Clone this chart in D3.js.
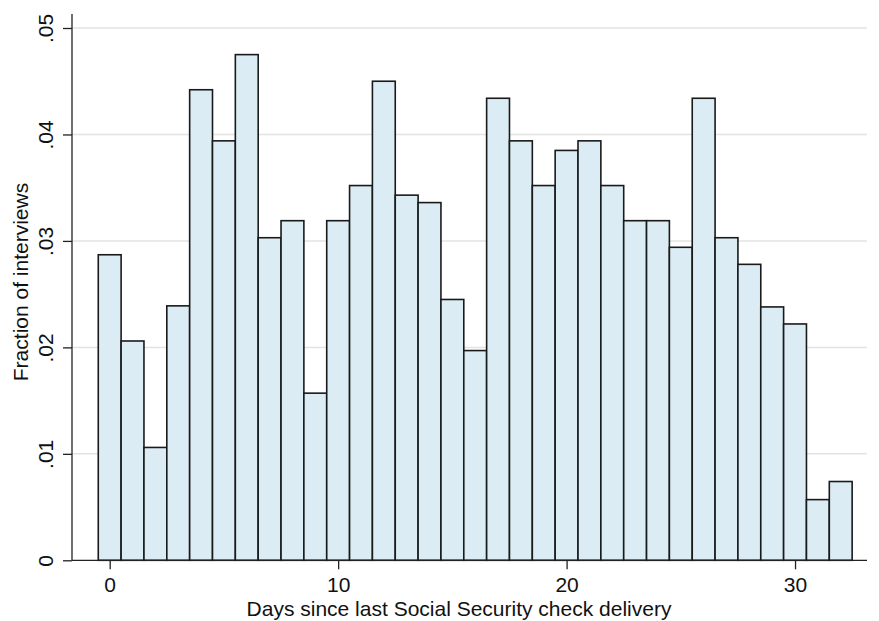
<!DOCTYPE html>
<html>
<head>
<meta charset="utf-8">
<script src="https://cdn.jsdelivr.net/npm/d3@7"></script>
<style>
  html, body { margin: 0; padding: 0; background: #fff; }
  svg { display: block; font-family: "Liberation Sans", Arial, Helvetica, sans-serif; }
</style>
</head>
<body>
<svg id="chart" width="879" height="621"></svg>
<script>
// Data: day since last check delivery and fraction of interviews
const days = d3.range(0, 33);
const fractions = [
  0.0287, 0.0206, 0.0106, 0.0239, 0.0442, 0.0394, 0.0475, 0.0303, 0.0319, 0.0157,
  0.0319, 0.0352, 0.0450, 0.0343, 0.0336, 0.0245, 0.0197, 0.0434, 0.0394, 0.0352,
  0.0385, 0.0394, 0.0352, 0.0319, 0.0319, 0.0294, 0.0434, 0.0303, 0.0278, 0.0238,
  0.0222, 0.0057, 0.0074
];
const xTicks = [0, 10, 20, 30];
const yTicks = [0, 0.01, 0.02, 0.03, 0.04, 0.05];
const yTickLabels = ["0", ".01", ".02", ".03", ".04", ".05"];
const xTitle = "Days since last Social Security check delivery";
const yTitle = "Fraction of interviews";

const svg = d3.select("#chart");
const mLeft = 72, mRight = 867, mTop = 14, mBottom = 560.3;

const x = d3.scaleLinear().domain([-1.65, 33.15]).range([mLeft, mRight]);
const y = d3.scaleLinear().domain([0, 0.05]).range([mBottom, 28]);

// gridlines
svg.append("g").selectAll("line").data(yTicks.filter(d => d > 0)).join("line")
  .attr("x1", mLeft).attr("x2", mRight)
  .attr("y1", d => y(d)).attr("y2", d => y(d))
  .attr("stroke", "#e3e3e3").attr("stroke-width", 1.5);

// bars
const bars = days.map((d, i) => ({ day: d, v: fractions[i] }));
svg.append("g").selectAll("rect").data(bars).join("rect")
  .attr("x", d => x(d.day - 0.5))
  .attr("width", d => x(d.day + 0.5) - x(d.day - 0.5))
  .attr("y", d => y(d.v))
  .attr("height", d => y(0) - y(d.v))
  .attr("fill", "#dcecf4")
  .attr("stroke", "#1a1a1a")
  .attr("stroke-width", 1.6);

// y axis
const yAxis = d3.axisLeft(y).tickValues(yTicks)
  .tickFormat((d, i) => yTickLabels[i]).tickSize(9).tickSizeOuter(0);
const gy = svg.append("g").attr("transform", `translate(${mLeft},0)`).call(yAxis);
gy.select(".domain").attr("d", `M0,${mTop}V${mBottom}`).attr("stroke", "#222").attr("stroke-width", 1.3);
gy.selectAll(".tick line").attr("stroke", "#222").attr("stroke-width", 1.3);
gy.selectAll(".tick text")
  .attr("x", 0).attr("dy", null).attr("y", 0)
  .attr("text-anchor", "middle")
  .attr("transform", "translate(-19,0) rotate(-90)")
  .attr("font-size", 21).attr("fill", "#111")
  .attr("font-family", "Liberation Sans, Arial, Helvetica, sans-serif");

// x axis
const xAxis = d3.axisBottom(x).tickValues(xTicks).tickSize(9).tickSizeOuter(0);
const gx = svg.append("g").attr("transform", `translate(0,${mBottom})`).call(xAxis);
gx.select(".domain").attr("d", `M${mLeft},0H${mRight}`).attr("stroke", "#222").attr("stroke-width", 1.3);
gx.selectAll(".tick line").attr("stroke", "#222").attr("stroke-width", 1.3);
gx.selectAll(".tick text")
  .attr("y", 32).attr("dy", null)
  .attr("font-size", 21).attr("fill", "#111")
  .attr("font-family", "Liberation Sans, Arial, Helvetica, sans-serif");

// titles
svg.append("text")
  .attr("x", 459).attr("y", 616)
  .attr("text-anchor", "middle")
  .attr("font-size", 21).attr("fill", "#111")
  .text(xTitle);

svg.append("text")
  .attr("transform", "translate(28,282) rotate(-90)")
  .attr("text-anchor", "middle")
  .attr("font-size", 21).attr("fill", "#111")
  .text(yTitle);
</script>
</body>
</html>
